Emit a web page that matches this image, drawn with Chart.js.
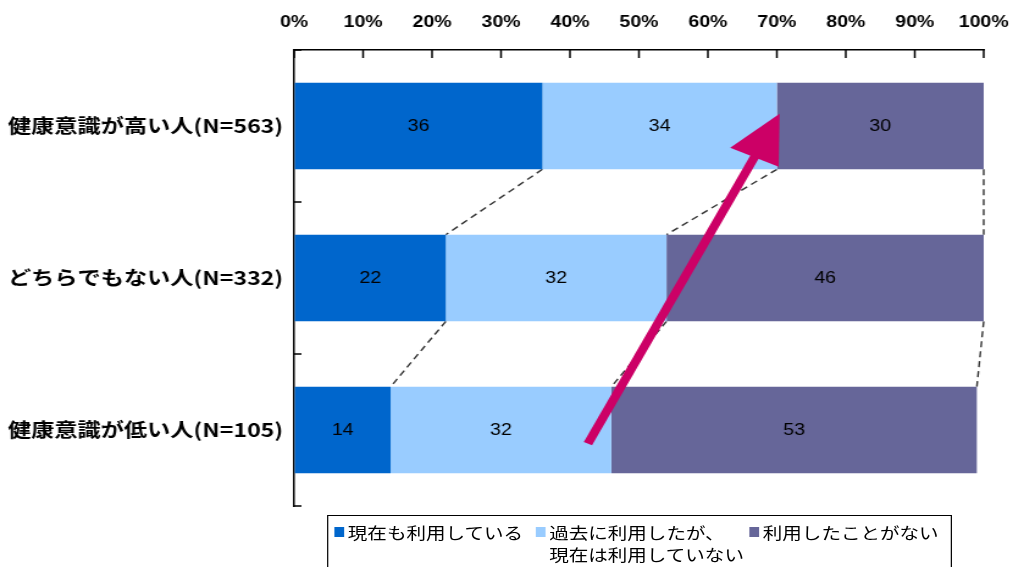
<!DOCTYPE html>
<html lang="ja">
<head>
  <meta charset="UTF-8">
  <title>健康意識と利用状況</title>
  <script src="https://cdn.jsdelivr.net/npm/chart.js"></script>
  <style>
    html, body { margin: 0; padding: 0; background: #fff; overflow: hidden; }
    /* the whole figure is drawn narrow and widened, so the text gets the same wide look as the bars */
    #wrap { position: absolute; left: 0; top: 0; width: 830px; height: 567px; transform: scaleX(1.22048); transform-origin: 0 0; }
    #legend { position: absolute; left: 268px; top: 515px; width: 512px; height: 70px; border: 1.5px solid #000; box-sizing: border-box;
              font-family: "Noto Sans CJK JP", sans-serif; font-size: 16px; color: #000; }
    .item { position: absolute; top: 5px; line-height: 22px; }
    .box { position: absolute; width: 8px; height: 10px; top: 11px; }
  </style>
</head>
<body>
  <div id="wrap">
    <canvas id="chart" width="830" height="567"></canvas>
    <div id="legend"></div>
  </div>

  <script>
    const categories = ['健康意識が高い人(N=563)', 'どちらでもない人(N=332)', '健康意識が低い人(N=105)'];
    const seriesNames = ['現在も利用している', '過去に利用したが、\n現在は利用していない', '利用したことがない'];
    const currentUse = [36, 22, 14];
    const pastUse = [34, 32, 32];
    const neverUse = [30, 46, 53];
    const xTickValues = [0, 10, 20, 30, 40, 50, 60, 70, 80, 90, 100];
    const colors = ['#0066CC', '#99CCFF', '#666699'];
    const latinFont = '"Liberation Sans", Arial, sans-serif';

    // legend (html, second entry wraps onto two lines)
    const legendPos = [[5, 16], [170, 181], [345, 356]];
    const legend = document.getElementById('legend');
    seriesNames.forEach((name, i) => {
      const box = document.createElement('div');
      box.className = 'box';
      box.style.left = legendPos[i][0] + 'px';
      box.style.background = colors[i];
      const txt = document.createElement('div');
      txt.className = 'item';
      txt.style.left = legendPos[i][1] + 'px';
      txt.innerHTML = name.replace('\n', '<br>');
      legend.appendChild(box);
      legend.appendChild(txt);
    });

    // series lines between bars, value labels, inner tick marks and the trend arrow
    const overlay = {
      id: 'overlay',
      beforeDatasetsDraw(chart) {
        const ctx = chart.ctx;
        ctx.save();
        ctx.strokeStyle = '#333';
        ctx.lineWidth = 1.4;
        ctx.setLineDash([6, 4]);
        chart.data.datasets.forEach((ds, d) => {
          const bars = chart.getDatasetMeta(d).data;
          for (let i = 0; i < bars.length - 1; i++) {
            const a = bars[i], b = bars[i + 1];
            ctx.beginPath();
            ctx.moveTo(a.x, a.y + a.height / 2);
            ctx.lineTo(b.x, b.y - b.height / 2);
            ctx.stroke();
          }
        });
        ctx.restore();
      },
      afterDatasetsDraw(chart, args, opts) {
        const ctx = chart.ctx;
        const area = chart.chartArea;
        const xs = chart.scales.x, ys = chart.scales.y;
        ctx.save();

        // value labels
        ctx.font = '16px ' + latinFont;
        ctx.fillStyle = '#000';
        ctx.textAlign = 'center';
        ctx.textBaseline = 'middle';
        chart.data.datasets.forEach((ds, d) => {
          chart.getDatasetMeta(d).data.forEach((bar, i) => {
            ctx.fillText(String(ds.data[i]), (bar.x + bar.base) / 2, bar.y + 1);
          });
        });

        // tick marks pointing into the plot
        ctx.strokeStyle = '#000';
        ctx.lineWidth = 1.5;
        xTickValues.forEach(v => {
          const px = xs.getPixelForValue(v);
          ctx.beginPath();
          ctx.moveTo(px, area.top);
          ctx.lineTo(px, area.top + 8);
          ctx.stroke();
        });
        for (let i = 0; i <= categories.length; i++) {
          const py = ys.getPixelForValue(i - 0.5);
          ctx.beginPath();
          ctx.moveTo(area.left, py);
          ctx.lineTo(area.left + 6, py);
          ctx.stroke();
        }

        // arrow
        const p0 = [xs.getPixelForValue(opts.from[0]), ys.getPixelForValue(opts.from[1])];
        const p1 = [xs.getPixelForValue(opts.to[0]), ys.getPixelForValue(opts.to[1])];
        const dx = p1[0] - p0[0], dy = p1[1] - p0[1];
        const len = Math.hypot(dx, dy);
        const ux = dx / len, uy = dy / len;
        const bx = p1[0] - ux * opts.headLength, by = p1[1] - uy * opts.headLength;
        ctx.strokeStyle = opts.color;
        ctx.fillStyle = opts.color;
        ctx.lineWidth = opts.width;
        ctx.beginPath();
        ctx.moveTo(p0[0], p0[1]);
        ctx.lineTo(bx + ux * 2, by + uy * 2);
        ctx.stroke();
        ctx.beginPath();
        ctx.moveTo(p1[0], p1[1]);
        ctx.lineTo(bx - uy * opts.headWidth, by + ux * opts.headWidth);
        ctx.lineTo(bx + uy * opts.headWidth, by - ux * opts.headWidth);
        ctx.closePath();
        ctx.fill();

        ctx.restore();
      }
    };

    new Chart(document.getElementById('chart').getContext('2d'), {
      type: 'bar',
      data: {
        labels: categories,
        datasets: [
          { label: seriesNames[0], data: currentUse, backgroundColor: colors[0] },
          { label: seriesNames[1], data: pastUse, backgroundColor: colors[1] },
          { label: seriesNames[2], data: neverUse, backgroundColor: colors[2] }
        ]
      },
      options: {
        indexAxis: 'y',
        responsive: false,
        animation: false,
        devicePixelRatio: 1,
        datasets: { bar: { barPercentage: 0.57, categoryPercentage: 1, borderWidth: 0 } },
        layout: { padding: { left: 0, right: 24, top: 0, bottom: 61 } },
        scales: {
          x: {
            type: 'linear',
            position: 'top',
            stacked: true,
            min: 0,
            max: 100,
            afterBuildTicks: scale => { scale.ticks = xTickValues.map(v => ({ value: v })); },
            afterFit: scale => { scale.height = 50; scale.paddingLeft = 0; scale.paddingRight = 0; },
            ticks: {
              callback: v => v + '%',
              color: '#000',
              padding: 18,
              maxRotation: 0,
              font: { family: latinFont, size: 16, weight: 'bold' }
            },
            grid: { drawOnChartArea: false, drawTicks: false },
            border: { display: true, color: '#000', width: 1.5 }
          },
          y: {
            stacked: true,
            offset: true,
            afterFit: scale => { scale.width = 241; },
            ticks: {
              color: '#000',
              padding: 9,
              font: { family: '"Noto Sans CJK JP", sans-serif', size: 19, weight: 'bold' }
            },
            grid: { offset: true, drawOnChartArea: false, drawTicks: false },
            border: { display: true, color: '#000', width: 1.5 }
          }
        },
        plugins: {
          legend: { display: false },
          tooltip: { enabled: false },
          overlay: { from: [42.6, 2.09], to: [70.4, -0.08], color: '#CC0066', width: 7.5, headLength: 48, headWidth: 22 }
        }
      },
      plugins: [overlay]
    });
  </script>
</body>
</html>
